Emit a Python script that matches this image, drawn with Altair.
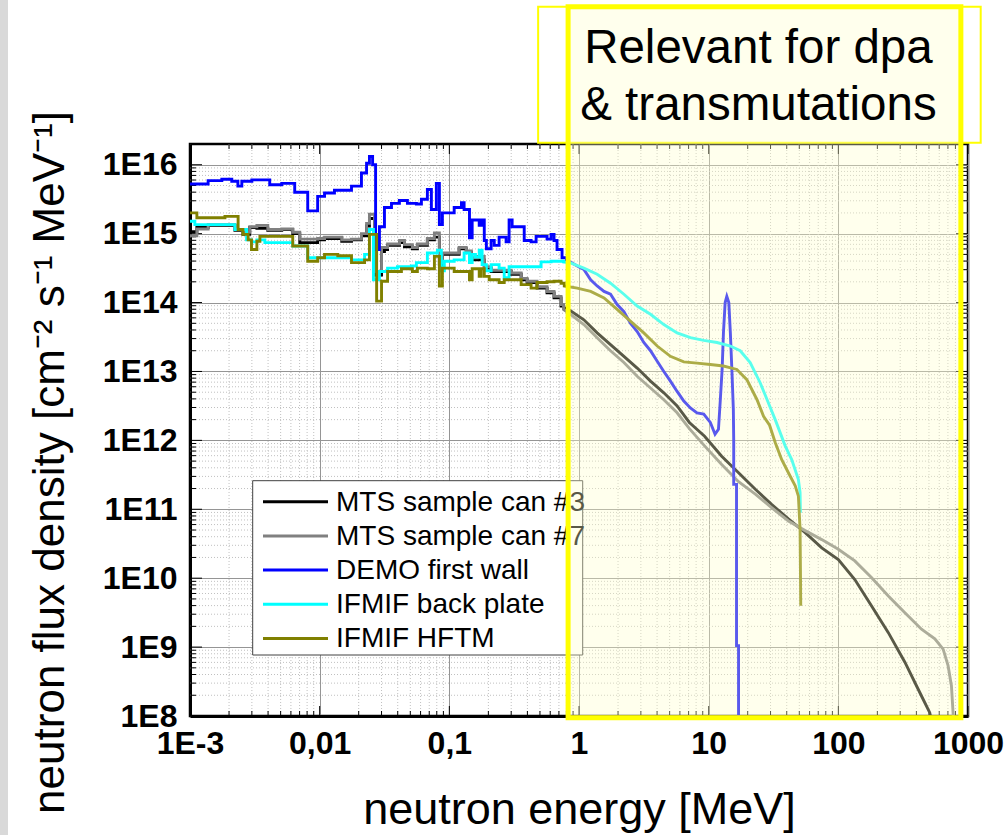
import altair as alt
import pandas as pd

# ---------------- data ----------------
SERIES_NAMES = ["MTS sample can #3", "MTS sample can #7", "DEMO first wall",
                "IFMIF back plate", "IFMIF HFTM"]
LINE_COLORS = ["#000000", "#808080", "#0000ff", "#00ffff", "#808000"]

# group-wise (step) part of each spectrum: bin start energy [MeV] and flux
MTS3_STEP_E = [1.00e-3, 1.13e-3, 1.38e-3, 2.22e-3, 2.56e-3, 2.89e-3, 3.28e-3, 3.98e-3, 5.10e-3,
               6.20e-3, 7.02e-3, 9.65e-3, 1.09e-2, 1.48e-2, 1.76e-2, 2.10e-2, 2.30e-2, 2.42e-2,
               2.65e-2, 3.00e-2, 3.16e-2, 3.34e-2, 4.13e-2, 4.51e-2, 5.19e-2, 5.67e-2, 6.77e-2,
               7.67e-2, 8.38e-2, 8.84e-2, 0.119, 0.135, 0.148, 0.186, 0.210, 0.300, 0.358,
               0.398, 0.475, 0.567, 0.642, 0.727]
MTS3_STEP_F = [1.07e15, 1.23e15, 1.32e15, 1.12e15, 9.77e14, 1.23e15, 1.20e15, 1.12e15, 1.15e15,
               1.00e15, 7.41e14, 8.13e14, 8.51e14, 7.76e14, 8.13e14, 9.33e14, 1.29e15, 1.66e15,
               2.51e14, 5.50e14, 5.89e14, 6.76e14, 7.41e14, 6.46e14, 6.03e14, 6.76e14, 8.13e14,
               8.91e14, 3.55e14, 5.01e14, 6.03e14, 5.37e14, 4.17e14, 3.16e14, 2.82e14, 2.57e14,
               2.14e14, 1.95e14, 1.62e14, 1.38e14, 1.17e14, 8.91e13]
MTS3_E = [0.76, 0.86, 1.09, 1.38, 1.75, 2.22, 2.81, 3.56, 4.51, 5.71, 7.1, 9.3, 12.6, 17.0,
          22.9, 30.7, 41.2, 55.5, 74.5, 100, 134, 180, 243, 326, 438, 507, 540]
MTS3_F = [8.51e13, 7.59e13, 5.62e13, 3.63e13, 2.45e13, 1.66e13, 1.12e13, 7.24e12, 4.90e12,
          3.16e12, 1.82e12, 1.15e12, 5.89e11, 3.39e11, 1.95e11, 1.17e11, 7.24e10, 4.57e10,
          2.75e10, 1.86e10, 9.55e9, 3.98e9, 1.62e9, 6.03e8, 1.95e8, 1.12e8, 6.31e7]

MTS7_STEP_E = [1.00e-3, 1.13e-3, 1.38e-3, 2.22e-3, 2.56e-3, 2.89e-3, 3.28e-3, 3.98e-3, 5.10e-3,
               6.20e-3, 7.02e-3, 9.65e-3, 1.09e-2, 1.48e-2, 1.76e-2, 2.10e-2, 2.30e-2, 2.42e-2,
               2.65e-2, 3.00e-2, 3.16e-2, 3.34e-2, 4.13e-2, 4.51e-2, 5.19e-2, 5.67e-2, 6.77e-2,
               7.67e-2, 8.38e-2, 8.84e-2, 0.119, 0.135, 0.148, 0.164, 0.186, 0.210, 0.300,
               0.358, 0.398, 0.475, 0.567, 0.642, 0.727]
MTS7_STEP_F = [9.33e14, 1.17e15, 1.35e15, 1.15e15, 1.05e15, 1.26e15, 1.32e15, 1.15e15, 1.17e15,
               1.05e15, 8.32e14, 8.51e14, 8.91e14, 8.13e14, 8.32e14, 1.00e15, 1.41e15, 1.91e15,
               2.82e14, 6.31e14, 6.31e14, 7.08e14, 7.94e14, 6.92e14, 6.31e14, 7.08e14, 8.51e14,
               1.02e15, 3.80e14, 5.25e14, 6.31e14, 5.62e14, 4.47e14, 4.68e14, 3.31e14, 2.95e14,
               2.69e14, 2.24e14, 2.04e14, 1.70e14, 1.45e14, 1.23e14, 9.33e13]
MTS7_E = [0.76, 0.86, 1.09, 1.38, 1.75, 2.22, 2.81, 3.56, 4.51, 5.71, 7.1, 9.3, 12.6, 17.0,
          22.9, 30.7, 41.2, 55.5, 74.5, 100, 134, 180, 243, 326, 438, 555, 643, 702, 745,
          767, 780]
MTS7_F = [7.94e13, 6.76e13, 4.79e13, 3.09e13, 2.00e13, 1.35e13, 8.51e12, 5.75e12, 3.89e12,
          2.51e12, 1.48e12, 8.32e11, 4.47e11, 2.51e11, 1.66e11, 1.05e11, 6.76e10, 4.90e10,
          3.63e10, 2.63e10, 1.78e10, 1.02e10, 5.50e9, 3.16e9, 1.82e9, 1.32e9, 9.33e8, 5.37e8,
          2.75e8, 1.12e8, 6.31e7]

DEMO_STEP_E = [1.00e-3, 1.38e-3, 1.76e-3, 2.10e-3, 2.34e-3, 2.51e-3, 3.00e-3, 4.12e-3, 5.10e-3,
               6.42e-3, 8.09e-3, 9.65e-3, 1.09e-2, 1.30e-2, 1.76e-2, 2.10e-2, 2.30e-2, 2.42e-2,
               2.56e-2, 2.70e-2, 2.89e-2, 3.16e-2, 3.58e-2, 4.12e-2, 4.75e-2, 5.57e-2, 6.09e-2,
               6.77e-2, 7.27e-2, 7.94e-2, 8.38e-2, 8.84e-2, 0.109, 0.124, 0.130, 0.143, 0.150,
               0.170, 0.179, 0.186, 0.193, 0.210, 0.222, 0.242, 0.274, 0.289, 0.305, 0.378,
               0.427, 0.467, 0.567, 0.609, 0.642, 0.677, 0.740]
DEMO_STEP_F = [5.25e15, 5.89e15, 6.17e15, 5.75e15, 4.90e15, 5.75e15, 6.03e15, 5.13e15, 5.37e15,
               3.98e15, 2.14e15, 3.47e15, 3.89e15, 4.27e15, 4.90e15, 7.59e15, 1.05e16, 1.32e16,
               1.00e16, 5.89e14, 1.26e15, 2.40e15, 2.75e15, 3.02e15, 2.75e15, 2.69e15, 3.16e15,
               4.37e15, 2.24e15, 5.37e15, 1.35e15, 2.00e15, 2.40e15, 2.82e15, 2.24e15, 8.71e14,
               1.58e15, 1.32e15, 1.58e15, 7.94e14, 6.03e14, 7.94e14, 6.76e14, 8.91e14, 7.59e14,
               1.58e15, 1.26e15, 7.94e14, 7.59e14, 9.12e14, 8.32e14, 9.77e14, 7.94e14, 5.89e14,
               4.47e14]
DEMO_E = [0.80, 0.97, 1.09, 1.23, 1.38, 1.56, 1.75, 1.97, 2.22, 2.49, 2.81, 3.16, 3.56, 4.01,
          4.51, 5.07, 5.71, 6.43, 7.23, 8.13, 9.16, 10.3, 11.2, 11.9, 12.3, 12.7, 13.0, 13.4,
          13.8, 14.3, 14.7, 15.1, 15.5, 15.6, 15.6, 16.4, 16.4, 17.0, 17.0, 17.2]
DEMO_F = [4.17e14, 3.39e14, 3.02e14, 2.14e14, 1.74e14, 1.45e14, 1.32e14, 9.33e13, 7.41e13,
          5.01e13, 3.80e13, 2.63e13, 2.00e13, 1.41e13, 1.00e13, 7.24e12, 5.13e12, 3.72e12,
          2.95e12, 2.51e12, 2.40e12, 1.82e12, 1.23e12, 1.45e12, 3.89e12, 1.07e13, 3.63e13,
          1.00e14, 1.23e14, 1.00e14, 3.63e13, 1.07e13, 2.82e12, 1.00e12, 2.30e11, 2.30e11,
          1.05e9, 1.05e9, 1.00e8, 5.00e7]

BACK_STEP_E = [1.00e-3, 1.09e-3, 2.22e-3, 2.73e-3, 2.98e-3, 3.28e-3, 3.78e-3, 6.20e-3, 8.09e-3,
               1.76e-2, 2.22e-2, 2.42e-2, 2.60e-2, 2.89e-2, 3.34e-2, 3.98e-2, 5.10e-2, 5.57e-2,
               6.77e-2, 8.09e-2, 8.68e-2, 9.15e-2, 0.109, 0.130, 0.143, 0.150, 0.159, 0.170,
               0.179, 0.193, 0.210, 0.242, 0.265, 0.289, 0.510, 0.609]
BACK_STEP_F = [1.51e15, 1.35e15, 1.15e15, 8.13e14, 7.59e14, 8.13e14, 7.41e14, 6.61e14, 4.47e14,
               4.17e14, 5.01e14, 1.15e15, 2.14e14, 2.82e14, 3.16e14, 3.31e14, 3.39e14, 3.80e14,
               5.25e14, 5.75e14, 2.88e14, 3.98e14, 4.17e14, 5.25e14, 3.80e14, 5.01e14, 4.57e14,
               5.75e14, 3.55e14, 2.88e14, 3.55e14, 3.16e14, 2.29e14, 3.31e14, 3.89e14, 3.98e14]
BACK_E = [0.76, 0.86, 1.09, 1.38, 1.75, 2.22, 2.81, 3.56, 4.51, 5.71, 7.23, 9.16, 11.6, 14.7,
          17.5, 20.9, 24.9, 32.6, 38.9, 43.7, 49.2, 50.7, 51.0]
BACK_F = [3.89e14, 3.76e14, 3.16e14, 2.57e14, 1.91e14, 1.32e14, 8.91e13, 6.76e13, 4.79e13,
          3.63e13, 3.09e13, 2.82e13, 2.63e13, 2.34e13, 2.00e13, 1.35e13, 6.92e12, 2.00e12,
          8.32e11, 5.25e11, 2.69e11, 1.74e11, 8.91e10]

HFTM_STEP_E = [1.00e-3, 1.13e-3, 1.86e-3, 2.35e-3, 2.56e-3, 2.81e-3, 2.98e-3, 3.28e-3, 3.46e-3,
               6.20e-3, 8.09e-3, 9.65e-3, 1.09e-2, 1.38e-2, 1.76e-2, 2.22e-2, 2.42e-2, 2.75e-2,
               3.00e-2, 3.34e-2, 4.27e-2, 5.19e-2, 5.67e-2, 6.77e-2, 7.67e-2, 8.38e-2, 8.84e-2,
               0.109, 0.143, 0.150, 0.170, 0.176, 0.186, 0.203, 0.242, 0.265, 0.358, 0.427,
               0.475, 0.567, 0.642, 0.727]
HFTM_STEP_F = [2.00e15, 1.70e15, 1.78e15, 1.15e15, 9.77e14, 8.13e14, 5.89e14, 7.76e14, 9.12e14,
               6.61e14, 3.98e14, 4.47e14, 5.01e14, 4.79e14, 3.80e14, 4.17e14, 9.77e14, 1.05e14,
               2.04e14, 2.82e14, 3.09e14, 2.82e14, 3.16e14, 3.09e14, 4.68e14, 1.74e14, 3.16e14,
               2.82e14, 2.14e14, 3.09e14, 2.40e14, 3.09e14, 2.40e14, 2.14e14, 1.95e14, 2.14e14,
               1.82e14, 1.62e14, 1.95e14, 2.00e14, 2.04e14, 1.91e14]
HFTM_E = [0.77, 0.97, 1.23, 1.56, 1.97, 2.49, 3.16, 4.01, 5.07, 6.43, 8.13, 10.3, 13.0, 16.5,
          19.7, 23.6, 26.5, 29.5, 32.6, 36.6, 41.2, 46.5, 49.2, 50.7, 51.3]
HFTM_F = [1.74e14, 1.62e14, 1.45e14, 1.17e14, 7.94e13, 5.37e13, 3.63e13, 2.34e13, 1.66e13,
          1.38e13, 1.32e13, 1.26e13, 1.20e13, 1.07e13, 7.59e12, 3.89e12, 2.24e12, 1.66e12,
          9.33e11, 5.25e11, 3.39e11, 2.19e11, 1.55e11, 5.13e10, 3.98e9]

X_TICKS = [1e-3, 1e-2, 1e-1, 1, 10, 100, 1000]
Y_TICKS = [1e8, 1e9, 1e10, 1e11, 1e12, 1e13, 1e14, 1e15, 1e16]
HIGHLIGHT_E = [0.824, 881]          # "relevant for dpa" energy band
TEXTBOX_E = [0.484, 1253]
NOTE_LINES = ["Relevant for dpa", "& transmutations"]
NOTE_E = [24.2]

# ---------------- layout ----------------
W, H = 778, 572
FONT = "Liberation Sans"
xs = alt.Scale(type="log", domain=[1e-3, 1e3])
ys = alt.Scale(type="log", domain=[1e8, 2e16])

X_AXIS = alt.Axis(
    values=X_TICKS, title="neutron energy [MeV]",
    labelExpr="datum.value < 0.002 ? '1E-3' : datum.value < 0.02 ? '0,01' : "
              "datum.value < 0.2 ? '0,1' : format(datum.value, 'd')",
    grid=True, gridColor="#959595", gridWidth=1,
    domainColor="black", domainWidth=3, ticks=False, tickSize=0,
    labelFont=FONT, labelFontSize=32, labelFontWeight="bold", labelColor="black",
    labelBaseline="alphabetic", labelPadding=37, labelFlush=False, labelOverlap=False,
    titleFont=FONT, titleFontSize=45, titleFontWeight="normal", titleColor="black",
    titleBaseline="alphabetic", titleAlign="center", titleX=389, titleY=107)
Y_AXIS = alt.Axis(
    values=Y_TICKS, title="neutron flux density [cm\u207b\u00b2 s\u207b\u00b9 MeV\u207b\u00b9]",
    labelExpr="'1E' + round(log(datum.value) / LN10)",
    grid=True, gridColor="#959595", gridWidth=1,
    domainColor="black", domainWidth=3, ticks=False, tickSize=0,
    labelFont=FONT, labelFontSize=32, labelFontWeight="bold", labelColor="black",
    labelPadding=13, labelOverlap=False, labelFlush=False,
    titleFont=FONT, titleFontSize=44, titleFontWeight="normal", titleColor="black",
    titleAngle=270, titleBaseline="alphabetic", titleAlign="center", titleX=-127, titleY=318)


def X(field):
    return alt.X(field, type="quantitative", scale=xs, axis=X_AXIS)


def Y(field):
    return alt.Y(field, type="quantitative", scale=ys, axis=Y_AXIS)


def one(**kw):
    return pd.DataFrame({k: [v] for k, v in kw.items()} or {"d": [0]})


def series_frame(name, se, sf, e, f):
    rows = []
    for i in range(len(se)):
        e1 = se[i + 1] if i + 1 < len(se) else e[0]
        rows.append((se[i], sf[i]))
        rows.append((e1, sf[i]))
    rows += list(zip(e, f))
    df = pd.DataFrame(rows, columns=["E", "flux"])
    df["idx"] = range(len(df))
    df["series"] = name
    return df


SERIES = [
    (MTS3_STEP_E, MTS3_STEP_F, MTS3_E, MTS3_F),
    (MTS7_STEP_E, MTS7_STEP_F, MTS7_E, MTS7_F),
    (DEMO_STEP_E, DEMO_STEP_F, DEMO_E, DEMO_F),
    (BACK_STEP_E, BACK_STEP_F, BACK_E, BACK_F),
    (HFTM_STEP_E, HFTM_STEP_F, HFTM_E, HFTM_F),
]

layers = []

# minor grid lines (dotted)
minor_x = [k * 10.0 ** p for p in range(-3, 3) for k in range(2, 10)]
minor_y = [k * 10.0 ** p for p in range(8, 16) for k in range(2, 10)]
layers.append(alt.Chart(pd.DataFrame({"v": minor_x})).mark_rule(
    color="#c0c0c0", strokeWidth=1, strokeDash=[1, 2]).encode(
    x=X("v"), y=alt.value(0), y2=alt.value(H)))
layers.append(alt.Chart(pd.DataFrame({"v": minor_y})).mark_rule(
    color="#c0c0c0", strokeWidth=1, strokeDash=[1, 2]).encode(
    y=Y("v"), x=alt.value(0), x2=alt.value(W)))

# inward ticks on all four sides
for vals, L in ((X_TICKS, 10), (minor_x, 5)):
    d = pd.DataFrame({"v": vals})
    layers.append(alt.Chart(d).mark_rule(color="black", strokeWidth=1).encode(
        x=X("v"), y=alt.value(H), y2=alt.value(H - L)))
    layers.append(alt.Chart(d).mark_rule(color="black", strokeWidth=1).encode(
        x=X("v"), y=alt.value(0), y2=alt.value(L)))
for vals, L in ((Y_TICKS, 12), (minor_y, 6)):
    d = pd.DataFrame({"v": vals})
    layers.append(alt.Chart(d).mark_rule(color="black", strokeWidth=1).encode(
        y=Y("v"), x=alt.value(0), x2=alt.value(L)))
    layers.append(alt.Chart(d).mark_rule(color="black", strokeWidth=1).encode(
        y=Y("v"), x=alt.value(W), x2=alt.value(W - L)))

for name, color, arrs in zip(SERIES_NAMES, LINE_COLORS, SERIES):
    df = series_frame(name, *arrs)
    layers.append(alt.Chart(df).mark_line(color=color, strokeWidth=2.9, clip=True).encode(
        x=X("E"), y=Y("flux"), order=alt.Order("idx:Q")))

# legend (box, line samples, labels)
LEG_X0, LEG_X1, LEG_Y0, LEG_Y1 = 62.7, 392.7, 336.7, 511
ROW = 34.2
layers.append(alt.Chart(one()).mark_rect(fill="white", stroke="#404040", strokeWidth=1).encode(
    x=alt.value(LEG_X0), x2=alt.value(LEG_X1), y=alt.value(LEG_Y0), y2=alt.value(LEG_Y1)))
for i, (name, color) in enumerate(zip(SERIES_NAMES, LINE_COLORS)):
    layers.append(alt.Chart(one(name=name)).mark_rule(color=color, strokeWidth=3).encode(
        x=alt.value(73), x2=alt.value(138), y=alt.value(357.7 + ROW * i)))
    layers.append(alt.Chart(one(name=name)).mark_text(
        align="left", baseline="alphabetic", font=FONT, fontSize=28, color="black").encode(
        x=alt.value(146), y=alt.value(366.5 + ROW * i), text="name:N"))

# highlighted energy band
band = pd.DataFrame({"e0": [HIGHLIGHT_E[0]], "e1": [HIGHLIGHT_E[1]]})
tbox = pd.DataFrame({"e0": [TEXTBOX_E[0]], "e1": [TEXTBOX_E[1]]})
layers.append(alt.Chart(tbox).mark_rect(fillOpacity=0, stroke="#ffff00", strokeWidth=2).encode(
    x=X("e0"), x2="e1:Q", y=alt.value(-137.3), y2=alt.value(-1.3)))
layers.append(alt.Chart(band).mark_rect(fill="#ffffcc", fillOpacity=0.35).encode(
    x=X("e0"), x2="e1:Q", y=alt.value(-137.3), y2=alt.value(573.7)))
layers.append(alt.Chart(band).mark_rect(fillOpacity=0, stroke="#ffff00", strokeWidth=5).encode(
    x=X("e0"), x2="e1:Q", y=alt.value(-137.3), y2=alt.value(573.7)))
layers.append(alt.Chart(pd.DataFrame({"e": NOTE_E})).mark_text(
    align="center", baseline="alphabetic", font=FONT, fontSize=47.5, lineHeight=57.3,
    color="black").encode(
    x=X("e"), y=alt.value(-81.3), text=alt.value(NOTE_LINES)))

# grey strip on the far left of the slide
layers.append(alt.Chart(one()).mark_rect(fill="#d9d9d9").encode(
    x=alt.value(-190), x2=alt.value(-182), y=alt.value(-144), y2=alt.value(691)))

chart = alt.layer(*layers).properties(
    width=W, height=H, autosize="none",
    padding={"left": 190, "top": 144, "right": 40, "bottom": 119},
    background="white",
).configure_view(stroke="black", strokeWidth=2.5)

chart.save("out.html", embed_options={"renderer": "svg", "actions": False})
